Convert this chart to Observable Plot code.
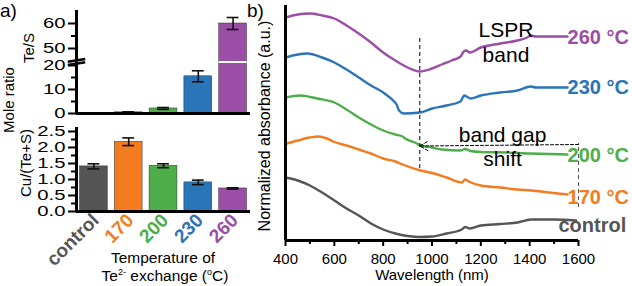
<!DOCTYPE html>
<html><head><meta charset="utf-8">
<script src="https://cdn.jsdelivr.net/npm/d3@7"></script>
<script src="https://cdn.jsdelivr.net/npm/@observablehq/plot@0.6"></script>
<style>
html,body{margin:0;padding:0;background:#fff;}
#wrap{position:relative;width:632px;height:286px;overflow:hidden;font-family:"Liberation Sans",Arial,sans-serif;}
#wrap svg{position:absolute;left:0;top:0;background:transparent;}
</style></head><body><div id="wrap"></div>
<script>
// ---------- Panel a data ----------
const categories = ["control", "170", "200", "230", "260"];
const colors = ["#555555", "#f47c20", "#4dae4a", "#2a74b8", "#9b4ea6"];
const teS = [0, 0.5, 2.1, 15.5, 60];
const teSErr = [0, 0.2, 0.4, 2.3, 2.4];
const cuRatio = [1.41, 2.18, 1.43, 0.91, 0.72];
const cuErr = [0.08, 0.12, 0.06, 0.07, 0.02];
const teSTicks = [0, 10, 20, 50, 60];
const teSMinor = [5, 15, 55];
const cuTicks = [0, 0.5, 1, 1.5, 2, 2.5];
const cuMinor = [0.25, 0.75, 1.25, 1.75, 2.25];

// ---------- Panel b data (wavelength nm, normalized absorbance a.u., offset) ----------
const wlTicks = [400, 600, 800, 1000, 1200, 1400, 1600];
const wlMinor = [500, 700, 900, 1100, 1300, 1500];
const curve260 = [[400,22.3],[450,22.6],[500,22.7],[550,22.5],[600,22.2],[650,21.5],[700,20.7],[750,19.8],[800,18.8],[850,18.0],[900,17.3],[950,16.9],[1000,17.2],[1040,17.6],[1080,18.0],[1117,18.4],[1130,18.9],[1140,19.0],[1155,18.8],[1200,19.3],[1280,19.7],[1350,20.0],[1390,20.3],[1405,20.5],[1425,20.4],[1555,20.4]];
const curve230 = [[400,18.3],[450,18.6],[490,18.7],[550,18.3],[600,17.8],[650,17.1],[700,16.3],[750,15.5],[800,14.8],[845,13.9],[855,13.6],[865,13.0],[885,12.7],[950,12.8],[1000,13.2],[1060,13.5],[1117,13.9],[1132,14.5],[1142,14.4],[1158,14.2],[1200,14.5],[1280,14.8],[1350,15.0],[1405,15.4],[1425,15.3],[1555,15.3]];
const curve200 = [[400,14.3],[460,14.5],[530,14.2],[600,13.8],[650,13.1],[700,12.3],[750,11.6],[800,11.0],[850,10.6],[880,10.4],[890,10.2],[930,9.8],[953,9.5],[1000,9.3],[1040,9.1],[1117,9.0],[1135,9.15],[1158,8.95],[1200,8.85],[1300,8.8],[1400,8.7],[1555,8.6]];
const curve170 = [[400,9.65],[450,10.0],[500,10.3],[535,10.4],[570,10.2],[600,9.85],[650,9.5],[700,9.1],[750,8.7],[800,8.2],[850,7.9],[870,7.7],[880,7.6],[953,7.0],[1000,6.75],[1060,6.3],[1122,5.8],[1136,6.1],[1155,5.85],[1200,5.5],[1280,5.3],[1350,5.1],[1405,5.0],[1480,4.8],[1555,4.6]];
const curveCtrl = [[400,6.3],[450,6.0],[500,5.5],[550,4.8],[600,4.0],[650,3.2],[700,2.5],[750,1.7],[800,1.1],[850,0.7],[900,0.45],[950,0.35],[1000,0.4],[1060,0.7],[1122,1.1],[1136,1.35],[1155,1.2],[1200,1.5],[1280,1.65],[1350,1.8],[1405,2.1],[1500,2.1],[1590,2.0]];
const curveNames = ["260 °C", "230 °C", "200 °C", "170 °C", "control"];
const curveColors = ["#9b4ea6", "#2a74b8", "#4dae4a", "#f47c20", "#555555"];
const curves = [curve260, curve230, curve200, curve170, curveCtrl];
const curveLabelPos = [[1555,20.3],[1555,15.3],[1555,8.45],[1555,4.3],[1518,1.45]];
const annotations = [["LSPR",1303,21.05],["band",1303,18.5],["band gap",1289,10.5],["shift",1289,8.1]];
const gapEdge = [950, 1600];
const lsprGuide = [950, 7.2, 20.3];
const gapGuide = [1600, 3.3, 9.7];
const arrowY = [9.6, 9.45];

const FONT = '"Liberation Sans", Arial, sans-serif';
const wrap = document.getElementById("wrap");
const idx = categories.map((_, i) => i);

// broken axis for Te/S: two linear segments
const disp = v => v <= 22 ? v * 2.4 : 65 + (v - 50) * 2.5;
const breakDisp = 51.5;
const teLabel = new Map(teSTicks.map(v => [disp(v), String(v)]));

function stretchTickLabels(svg) {
  svg.querySelectorAll('[aria-label="y-axis tick label"] text').forEach(t => {
    t.setAttribute("transform", (t.getAttribute("transform") || "") + " scale(1.45,1)");
  });
}

const baseStyle = {fontFamily: FONT, fontSize: "14px", background: "transparent", overflow: "visible", color: "#000"};

// ---------- Panel a top: Te/S ----------
const topPlot = Plot.plot({
  width: 632, height: 286,
  marginLeft: 76, marginRight: 382, marginTop: 10, marginBottom: 173,
  x: {domain: [-0.5, 4.5], axis: null},
  y: {domain: [0, 103]},
  color: {type: "identity"},
  style: baseStyle,
  marks: [
    Plot.rectY(idx.filter(i => teS[i] > 0), {x1: i => i - 0.4, x2: i => i + 0.4, y: i => disp(teS[i]), fill: i => colors[i], stroke: "#333", strokeWidth: 0.5}),
    Plot.ruleY(idx.filter(i => teS[i] > 22), {x1: i => i - 0.4, x2: i => i + 0.4, y: () => breakDisp, stroke: "white", strokeWidth: 2}),
    Plot.ruleX(idx.filter(i => teSErr[i] > 0), {x: i => i, y1: i => disp(teS[i] - teSErr[i]), y2: i => disp(teS[i] + teSErr[i]), stroke: "#111", strokeWidth: 1.6}),
    Plot.ruleY(idx.filter(i => teSErr[i] > 0), {x1: i => i - 0.17, x2: i => i + 0.17, y: i => disp(teS[i] + teSErr[i]), stroke: "#111", strokeWidth: 1.6}),
    Plot.ruleY(idx.filter(i => teSErr[i] > 0), {x1: i => i - 0.17, x2: i => i + 0.17, y: i => disp(teS[i] - teSErr[i]), stroke: "#111", strokeWidth: 1.6}),
    Plot.ruleX([-0.5], {stroke: "#000", strokeWidth: 3}),
    Plot.ruleY([0], {stroke: "#000", strokeWidth: 3}),
    Plot.link([-1.6, 1.6], {x1: -0.75, x2: -0.25, y1: o => breakDisp + o - 1.4, y2: o => breakDisp + o + 1.4, stroke: "#000", strokeWidth: 2.6}),
    Plot.axisY(teSTicks.map(disp), {tickSize: 8, tickPadding: 3, tickFormat: d => teLabel.get(d), strokeWidth: 2, fontSize: 14, label: null}),
    Plot.axisY(teSMinor.map(disp), {tickSize: 5, tickFormat: () => "", strokeWidth: 2, label: null})
  ]
});
stretchTickLabels(topPlot);
wrap.appendChild(topPlot);

// ---------- Panel a bottom: Cu/(Te+S) ----------
const bottomPlot = Plot.plot({
  width: 632, height: 286,
  marginLeft: 76, marginRight: 382, marginTop: 127, marginBottom: 75,
  x: {domain: [-0.5, 4.5], axis: null},
  y: {domain: [0, 2.625]},
  color: {type: "identity"},
  style: baseStyle,
  marks: [
    Plot.rectY(idx, {x1: i => i - 0.4, x2: i => i + 0.4, y: i => cuRatio[i], fill: i => colors[i], stroke: "#333", strokeWidth: 0.5}),
    Plot.ruleX(idx, {x: i => i, y1: i => cuRatio[i] - cuErr[i], y2: i => cuRatio[i] + cuErr[i], stroke: "#111", strokeWidth: 1.6}),
    Plot.ruleY(idx, {x1: i => i - 0.17, x2: i => i + 0.17, y: i => cuRatio[i] + cuErr[i], stroke: "#111", strokeWidth: 1.6}),
    Plot.ruleY(idx, {x1: i => i - 0.17, x2: i => i + 0.17, y: i => cuRatio[i] - cuErr[i], stroke: "#111", strokeWidth: 1.6}),
    Plot.ruleX([-0.5], {stroke: "#000", strokeWidth: 3}),
    Plot.ruleY([0], {stroke: "#000", strokeWidth: 3}),
    Plot.axisY(cuTicks, {tickSize: 8, tickPadding: 3, tickFormat: d => d.toFixed(1), strokeWidth: 2, fontSize: 14, label: null}),
    Plot.axisY(cuMinor, {tickSize: 5, tickFormat: () => "", strokeWidth: 2, label: null}),
    Plot.text(idx, {x: i => i, frameAnchor: "bottom", text: i => categories[i], fill: i => colors[i], rotate: -45, textAnchor: "end", fontSize: 19, fontWeight: "bold", dx: 6, dy: 10})
  ]
});
stretchTickLabels(bottomPlot);
wrap.appendChild(bottomPlot);

// ---------- Panel b: spectra ----------
const lineMarks = curves.map((c, k) => Plot.line(c, {x: d => d[0], y: d => d[1], stroke: curveColors[k], strokeWidth: 2.4, curve: "monotone-x"}));
const spectraPlot = Plot.plot({
  width: 632, height: 286,
  marginLeft: 285, marginRight: 54, marginTop: 5, marginBottom: 46,
  x: {domain: [400, 1600]},
  y: {domain: [0, 23.5], axis: null},
  color: {type: "identity"},
  style: {...baseStyle, fontSize: "15px"},
  marks: [
    ...lineMarks,
    Plot.ruleX([lsprGuide], {x: d => d[0], y1: d => d[1], y2: d => d[2], stroke: "#000", strokeWidth: 1, strokeDasharray: "4,3"}),
    Plot.ruleX([gapGuide], {x: d => d[0], y1: d => d[1], y2: d => d[2], stroke: "#555", strokeWidth: 1, strokeDasharray: "4,3"}),
    Plot.arrow([gapEdge], {x1: d => d[1], x2: d => d[0], y1: () => arrowY[0], y2: () => arrowY[1], stroke: "#000", strokeWidth: 1, strokeDasharray: "3,2", headLength: 14}),
    Plot.text(annotations, {x: d => d[1], y: d => d[2], text: d => d[0], fontSize: 21, fill: "#000"}),
    Plot.text(curveLabelPos, {x: d => d[0], y: d => d[1], text: (d, i) => curveNames[i], fill: (d, i) => curveColors[i], textAnchor: "start", fontSize: 20, fontWeight: "bold"}),
    Plot.ruleX([400], {stroke: "#000", strokeWidth: 3}),
    Plot.ruleY([0], {stroke: "#000", strokeWidth: 3}),
    Plot.axisX(wlTicks, {tickSize: 6, tickPadding: 7, tickFormat: d => String(d), strokeWidth: 2, fontSize: 15, label: null}),
    Plot.axisX(wlMinor, {tickSize: 4, tickFormat: () => "", strokeWidth: 2, label: null})
  ]
});
wrap.appendChild(spectraPlot);

// ---------- Titles and axis labels ----------
const ov = d3.create("svg").attr("width", 632).attr("height", 286)
  .style("font-family", FONT).attr("fill", "#000");
ov.append("text").attr("x", 0).attr("y", 17).attr("font-size", 19).text("a)");
ov.append("text").attr("x", 247).attr("y", 17).attr("font-size", 19).text("b)");
ov.append("text").attr("transform", "translate(14,100) rotate(-90)").attr("text-anchor", "middle").attr("font-size", 15).text("Mole ratio");
ov.append("text").attr("transform", "translate(34,48) rotate(-90)").attr("text-anchor", "middle").attr("font-size", 15).text("Te/S");
ov.append("text").attr("transform", "translate(31,163) rotate(-90)").attr("text-anchor", "middle").attr("font-size", 15).text("Cu/(Te+S)");
ov.append("text").attr("x", 163).attr("y", 263).attr("text-anchor", "middle").attr("font-size", 15.5).text("Temperature of");
const t2 = ov.append("text").attr("x", 165).attr("y", 281).attr("text-anchor", "middle").attr("font-size", 15.5);
t2.append("tspan").text("Te");
t2.append("tspan").attr("font-size", 9).attr("dy", -6).text("2-");
t2.append("tspan").attr("dy", 6).text(" exchange (");
t2.append("tspan").attr("font-size", 9).attr("dy", -6).text("o");
t2.append("tspan").attr("dy", 6).text("C)");
ov.append("text").attr("transform", "translate(270,126) rotate(-90)").attr("text-anchor", "middle").attr("font-size", 16).text("Normalized absorbance (a.u.)");
ov.append("text").attr("x", 432).attr("y", 280).attr("text-anchor", "middle").attr("font-size", 15).text("Wavelength (nm)");
wrap.appendChild(ov.node());
</script></body></html>
